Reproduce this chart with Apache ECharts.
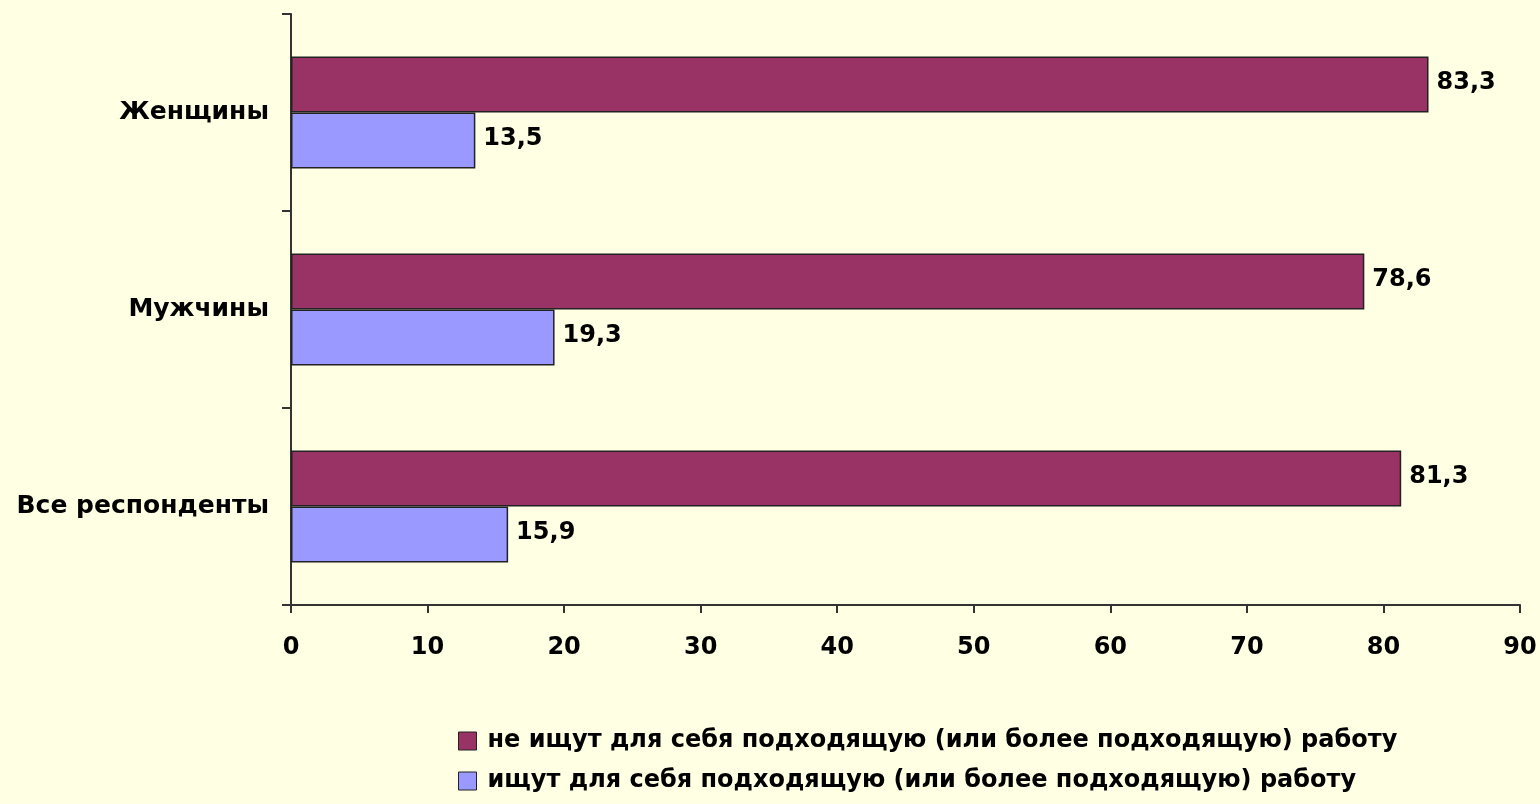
<!DOCTYPE html>
<html>
<head>
<meta charset="utf-8">
<script src="https://cdn.jsdelivr.net/npm/echarts@6/dist/echarts.min.js"></script>
<style>
html,body{margin:0;padding:0;background:#FFFFE3;}
#c{width:1540px;height:804px;}
</style>
</head>
<body>
<div id="c"></div>
<script>
var categories = ['Женщины', 'Мужчины', 'Все респонденты'];
var seriesNames = ['не ищут для себя подходящую (или более подходящую) работу', 'ищут для себя подходящую (или более подходящую) работу'];
var notSeeking = [83.3, 78.6, 81.3];
var seeking = [13.5, 19.3, 15.9];
var xTicks = [0, 10, 20, 30, 40, 50, 60, 70, 80, 90];

var fontFam = '"DejaVu Sans", "Liberation Sans", sans-serif';
var chart = echarts.init(document.getElementById('c'));
function fmt(p){ return String(p.value).replace('.', ','); }
chart.setOption({
  backgroundColor: '#FFFFE3',
  animation: false,
  grid: {left: 291, right: 20, top: 14, bottom: 199, containLabel: false},
  xAxis: {
    type: 'value', min: xTicks[0], max: xTicks[xTicks.length-1], interval: 10,
    axisLine: {show: true, lineStyle: {color: '#333', width: 2}},
    axisTick: {show: true, length: 8, lineStyle: {color: '#333', width: 2}},
    splitLine: {show: false},
    axisLabel: {margin: 31, color: '#000', fontFamily: fontFam, fontWeight: 'bold', fontSize: 24}
  },
  yAxis: {
    type: 'category', data: categories, inverse: true,
    axisLine: {show: true, lineStyle: {color: '#333', width: 2}},
    axisTick: {show: true, length: 9, alignWithLabel: false, lineStyle: {color: '#333', width: 2}},
    axisLabel: {margin: 22, color: '#000', fontFamily: fontFam, fontWeight: 'bold', fontSize: 25}
  },
  legend: {
    orient: 'vertical', left: 453, top: 723, height: 80, itemWidth: 18, itemHeight: 18, itemGap: 14,
    icon: 'rect',
    itemStyle: {borderColor: '#222', borderWidth: 1},
    textStyle: {color: '#000', fontFamily: fontFam, fontWeight: 'bold', fontSize: 24, lineHeight: 26, padding: [0,0,0,6]},
    data: seriesNames
  },
  series: [
    {name: seriesNames[0], type: 'bar', data: notSeeking, barWidth: 56, barGap: '0%',
     itemStyle: {color: '#993366', borderColor: '#222', borderWidth: 1.5},
     label: {show: true, position: 'right', distance: 8, formatter: fmt, color: '#000', fontFamily: fontFam, fontWeight: 'bold', fontSize: 24, offset: [0,-2]}},
    {name: seriesNames[1], type: 'bar', data: seeking, barWidth: 56, barGap: '0%',
     itemStyle: {color: '#9999FF', borderColor: '#222', borderWidth: 1.5},
     label: {show: true, position: 'right', distance: 8, formatter: fmt, color: '#000', fontFamily: fontFam, fontWeight: 'bold', fontSize: 24, offset: [0,-2]}}
  ]
});
</script>
</body>
</html>
